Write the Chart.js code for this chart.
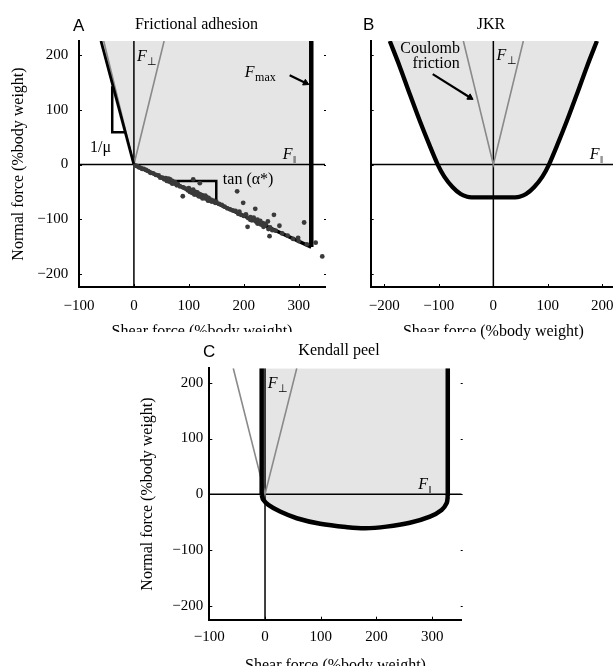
<!DOCTYPE html>
<html><head><meta charset="utf-8">
<script src="https://cdn.jsdelivr.net/npm/chart.js@4/dist/chart.umd.min.js"></script>
<style>
html,body{margin:0;padding:0;background:#fff;width:613px;height:666px;overflow:hidden;position:relative}
.p{position:absolute;overflow:hidden;background:#fff}
canvas{display:block}
</style></head><body>
<div class="p" style="left:0;top:0;width:345px;height:345px;z-index:1"><canvas id="ca" width="345" height="345"></canvas></div>
<div class="p" style="left:330px;top:0;width:300px;height:345px;z-index:2"><canvas id="cb" width="300" height="345"></canvas></div>
<div class="p" style="left:100px;top:332px;width:377px;height:345px;z-index:3"><canvas id="cc" width="377" height="345"></canvas></div>
<script>
// ---------- Panel A: Frictional adhesion ----------
const aTicksX = [-100, 0, 100, 200, 300];
const aTicksY = [-200, -100, 0, 100, 200];
const aFillX = [-60, 0, 323, 323];
const aFillY = [226, 0, -151, 226];
const aLimitX = [-60, 0];
const aLimitY = [226, 0];
const aTanX = [0, 323];
const aTanY = [0, -151];
const aFmaxX = [323, 323];
const aFmaxY = [-151, 226];
const aCoulombX = [-55, 0, 55];
const aCoulombY = [226, 0, 226];
const aMuMarkX = [-39.5, -39.5, -16];
const aMuMarkY = [143, 59, 59];
const aTanMarkX = [65, 150, 150];
const aTanMarkY = [-30, -30, -69];
const aArrowX = [283.6, 312.7];
const aArrowY = [163.5, 149.3];
const aScatterX = [3,6,9,12,15,18,22,26,30,35,40,45,48,52,55,58,62,64,66,68,70,72,75,78,80,84,89,90,94,98,100,102,104,106,108,108,110,112,114,116,118,120,120,122,124,126,128,130,132,134,136,138,140,142,145,148,150,155,160,165,170,175,180,185,188,190,192,195,199,200,204,207,208,212,215,218,221,222,225,228,230,232,235,238,240,244,245,247,248,252,255,258,265,270,280,290,299,300,310,315,331,343,105,110,115,118,125,130,135,212,218,225,230,236,60,63,70];
const aScatterY = [-2,-3,-5,-6,-8,-8,-10,-12,-15,-16,-19,-20,-24,-24,-27,-25,-28,-31,-27,-33,-30,-34,-32,-38,-36,-40,-58,-42,-44,-47,-43,-50,-48,-52,-27,-46,-53,-50,-55,-52,-57,-34,-54,-59,-56,-60,-58,-62,-59,-64,-61,-66,-64,-68,-66,-70,-68,-72,-74,-77,-80,-82,-84,-85,-49,-90,-86,-92,-70,-94,-91,-114,-98,-96,-102,-99,-81,-104,-101,-108,-105,-110,-107,-112,-109,-104,-118,-131,-115,-120,-92,-121,-112,-126,-130,-136,-134,-140,-106,-146,-143,-168,-47,-55,-51,-58,-62,-57,-66,-101,-97,-108,-103,-114,-30,-26,-35];

// ---------- Panel B: JKR ----------
const bTicksX = [-200, -100, 0, 100, 200];
const bTicksY = [-200, -100, 0, 100, 200];
const bCurveX = [-190,-172,-153,-135,-119,-102,-90,-75,-60,-48,-40,40,48,60,75,90,102,119,135,153,172,190];
const bCurveY = [226,180,128,80,40,0,-22,-41,-54,-59,-60,-60,-59,-54,-41,-22,0,40,80,128,180,226];
const bCoulombX = [-55, 0, 55];
const bCoulombY = [226, 0, 226];
const bArrowX = [-111.2, -42.8];
const bArrowY = [165.3, 122.7];

// ---------- Panel C: Kendall peel ----------
const cTicksX = [-100, 0, 100, 200, 300];
const cTicksY = [-200, -100, 0, 100, 200];
const cCurveX = [-6,-3,6,27,57,99,147,180,218,260,296,317,326,328];
const cCurveY = [-1,-10,-19,-31,-43,-53,-59,-61,-58,-51,-40,-28,-16,-3];
const cLeftX = [-6, -6];
const cLeftY = [226, -1];
const cRightX = [328, 328];
const cRightY = [-3, 226];
const cCoulombX = [-57, 0, 57];
const cCoulombY = [226, 0, 226];

// ---------- helpers ----------
Chart.defaults.font.family = '"Liberation Serif", "Times New Roman", serif';
Chart.defaults.color = '#000';
const SERIF = '"Liberation Serif", "Times New Roman", serif';
const SANS = '"Liberation Sans", Arial, sans-serif';
const FILL = '#e5e5e5';
const GREY = '#8a8a8a';
const pts = (xs, ys) => xs.map((x, i) => ({x: x, y: ys[i]}));
const fmt = v => v < 0 ? '\u2212' + Math.abs(v) : String(v);

function lineDs(xs, ys, color, width, order, extra) {
  return Object.assign({data: pts(xs, ys), borderColor: color, borderWidth: width,
    pointRadius: 0, fill: false, tension: 0, order: order,
    borderCapStyle: 'butt', borderJoinStyle: 'miter'}, extra || {});
}
function fillDs(xs, ys, order, extra) {
  return Object.assign({data: pts(xs, ys), borderWidth: 0, borderColor: 'rgba(0,0,0,0)',
    backgroundColor: FILL, fill: 'end', pointRadius: 0, tension: 0, order: order}, extra || {});
}
function arrowDs(xs, ys, rot, order) {
  return {data: pts(xs, ys), borderColor: '#000', borderWidth: 2.2, fill: false, order: order,
    pointRadius: [0, 3.6], pointStyle: 'triangle', pointRotation: [0, rot],
    pointBackgroundColor: '#000', pointBorderColor: '#000', pointBorderWidth: 1};
}

const notesPlugin = {
  id: 'notes',
  afterDraw(chart, args, o) {
    const ctx = chart.ctx, xs = chart.scales.x, ys = chart.scales.y, ca = chart.chartArea;
    ctx.save();
    ctx.strokeStyle = '#000'; ctx.lineWidth = 1;
    const seg = (x1, y1, x2, y2) => { ctx.beginPath(); ctx.moveTo(x1, y1); ctx.lineTo(x2, y2); ctx.stroke(); };
    (o.xt || []).forEach(v => { const p = Math.round(xs.getPixelForValue(v)) + 0.5; seg(p, ca.bottom, p, ca.bottom - 3); });
    (o.yt || []).forEach(v => { const p = Math.round(ys.getPixelForValue(v)) + 0.5;
      seg(ca.left, p, ca.left + 3, p);
      if (o.right) seg(ca.right - 1, p, ca.right + 1, p); });
    ctx.fillStyle = '#000';
    ctx.textBaseline = 'alphabetic';
    (o.labels || []).forEach(l => {
      const x = xs.getPixelForValue(l.x), y = ys.getPixelForValue(l.y);
      if (l.kind === 'F') {
        ctx.font = 'italic 16px ' + SERIF; ctx.textAlign = 'left';
        ctx.fillText('F', x, y);
        const w = ctx.measureText('F').width;
        ctx.font = (l.sub === 'max' ? '12px ' : '11px ') + SERIF;
        ctx.fillText(l.sub, x + w + 0.5, y + 4);
      } else {
        ctx.font = '16px ' + SERIF; ctx.textAlign = l.align || 'left';
        ctx.fillText(l.t, x, y);
      }
    });
    (o.titles || []).forEach(t => {
      ctx.font = t.font; ctx.textAlign = t.align;
      ctx.fillText(t.t, t.px, t.py);
    });
    ctx.restore();
  }
};

function xScale(min, max, ticks, pad, title, h) {
  return {type: 'linear', min: min, max: max,
    afterBuildTicks: s => { s.ticks = ticks.map(v => ({value: v})); },
    afterFit: s => { s.height = h; },
    grid: {display: false, drawTicks: false, tickLength: 0},
    border: {display: true, color: '#000', width: 2},
    ticks: {padding: pad, font: {size: 15}, color: '#000', callback: v => fmt(v), maxRotation: 0, autoSkip: false},
    title: {display: true, text: title, font: {size: 16}, color: '#000', padding: {top: 0, bottom: 0}}
  };
}
function yScale(min, max, ticks, width, pad, showLabels, titlePad) {
  return {type: 'linear', min: min, max: max,
    afterBuildTicks: s => { s.ticks = ticks.map(v => ({value: v})); },
    afterFit: s => { s.width = width; },
    grid: {display: false, drawTicks: false, tickLength: 0},
    border: {display: true, color: '#000', width: 2},
    ticks: {display: showLabels, padding: pad, font: {size: 15}, color: '#000', callback: v => fmt(v), autoSkip: false},
    title: {display: showLabels, text: 'Normal force (%body weight)', font: {size: 16}, color: '#000', padding: {top: titlePad, bottom: 0}}
  };
}
function baseOpts(pad, sx, sy, notes) {
  return {responsive: false, animation: false, devicePixelRatio: 1,
    layout: {padding: pad},
    plugins: {legend: {display: false}, tooltip: {enabled: false}, notes: notes},
    scales: {x: sx, y: sy}};
}

// ---------- Chart A ----------
new Chart(document.getElementById('ca'), {
  type: 'line',
  data: {datasets: [
    {data: pts(aScatterX, aScatterY), showLine: false, pointRadius: 2.4, pointBackgroundColor: '#3a3a3a',
      pointBorderWidth: 0, order: 0},
    lineDs(aMuMarkX, aMuMarkY, '#000', 2.5, 1),
    lineDs(aTanMarkX, aTanMarkY, '#000', 2.5, 1),
    arrowDs(aArrowX, aArrowY, 115.7, 1),
    lineDs(aFmaxX, aFmaxY, '#000', 4.5, 2),
    lineDs(aTanX, aTanY, '#000', 3.5, 2),
    lineDs(aLimitX, aLimitY, '#000', 2.8, 3),
    lineDs(aCoulombX, aCoulombY, GREY, 1.6, 4),
    lineDs([0, 0], [-224, 226], '#000', 1.5, 5),
    lineDs([-100, 348], [0, 0], '#000', 1.5, 5),
    fillDs(aFillX, aFillY, 10)
  ]},
  options: baseOpts({left: 0, top: 41, right: 20, bottom: 4},
    xScale(-100, 348, aTicksX, 10.5, 'Shear force (%body weight)', 54),
    yScale(-224, 226, aTicksY, 79, 10.7, true, 8.7),
    {xt: aTicksX, yt: aTicksY, right: true,
     labels: [
       {kind: 'F', x: 5.5, y: 189, sub: '\u22A5'},
       {kind: 'F', x: 202, y: 160, sub: 'max'},
       {kind: 't', x: -80, y: 23, t: '1/\u03BC'},
       {kind: 'F', x: 271, y: 10, sub: '\u2016'},
       {kind: 't', x: 162, y: -36, t: 'tan (\u03B1*)'}
     ],
     titles: [
       {t: 'A', px: 73, py: 30.5, font: '17px ' + SANS, align: 'left'},
       {t: 'Frictional adhesion', px: 196.5, py: 28.5, font: '16px ' + SERIF, align: 'center'}
     ]}),
  plugins: [notesPlugin]
});

// ---------- Chart B ----------
new Chart(document.getElementById('cb'), {
  type: 'line',
  data: {datasets: [
    arrowDs(bArrowX, bArrowY, 122, 1),
    lineDs(bCurveX, bCurveY, '#000', 4.3, 2, {tension: 0.3}),
    lineDs(bCoulombX, bCoulombY, GREY, 1.6, 4),
    lineDs([0, 0], [-224, 226], '#000', 1.5, 5),
    lineDs([-225, 225], [0, 0], '#000', 1.5, 5),
    fillDs(bCurveX, bCurveY, 10, {tension: 0.3})
  ]},
  options: baseOpts({left: 0, top: 41, right: 14, bottom: 4},
    xScale(-225, 225, bTicksX, 10.5, 'Shear force (%body weight)', 54),
    yScale(-224, 226, bTicksY, 40.7, 6, false, 0),
    {xt: bTicksX, yt: bTicksY, right: false,
     labels: [
       {kind: 't', x: -116, y: 204, t: 'Coulomb', align: 'center'},
       {kind: 't', x: -105, y: 177, t: 'friction', align: 'center'},
       {kind: 'F', x: 6, y: 191, sub: '\u22A5'},
       {kind: 'F', x: 177, y: 10, sub: '\u2016'}
     ],
     titles: [
       {t: 'B', px: 33, py: 30, font: '17px ' + SANS, align: 'left'},
       {t: 'JKR', px: 161, py: 28.5, font: '16px ' + SERIF, align: 'center'}
     ]}),
  plugins: [notesPlugin]
});

// ---------- Chart C ----------
const cFillX = cLeftX.concat(cCurveX, cRightX);
const cFillY = cLeftY.concat(cCurveY, cRightY);
new Chart(document.getElementById('cc'), {
  type: 'line',
  data: {datasets: [
    lineDs(cCurveX, cCurveY, '#000', 4.5, 2, {tension: 0.35}),
    lineDs(cLeftX, cLeftY, '#000', 4.5, 2),
    lineDs(cRightX, cRightY, '#000', 4.5, 2),
    lineDs(cCoulombX, cCoulombY, GREY, 1.6, 4),
    lineDs([0, 0], [-225, 226], '#000', 1.5, 5),
    lineDs([-100, 353], [0, 0], '#000', 1.5, 5),
    fillDs(cFillX, cFillY, 10)
  ]},
  options: baseOpts({left: 30, top: 36.3, right: 15.3, bottom: 1.3},
    xScale(-100, 353, cTicksX, 7.9, 'Shear force (%body weight)', 56),
    yScale(-225, 226, cTicksY, 79.3, 6, true, 8.4),
    {xt: cTicksX, yt: cTicksY, right: true,
     labels: [
       {kind: 'F', x: 5, y: 191, sub: '\u22A5'},
       {kind: 'F', x: 275, y: 9, sub: '\u2016'}
     ],
     titles: [
       {t: 'C', px: 103, py: 24.7, font: '17px ' + SANS, align: 'left'},
       {t: 'Kendall peel', px: 239, py: 23, font: '16px ' + SERIF, align: 'center'}
     ]}),
  plugins: [notesPlugin]
});
</script>
</body></html>
